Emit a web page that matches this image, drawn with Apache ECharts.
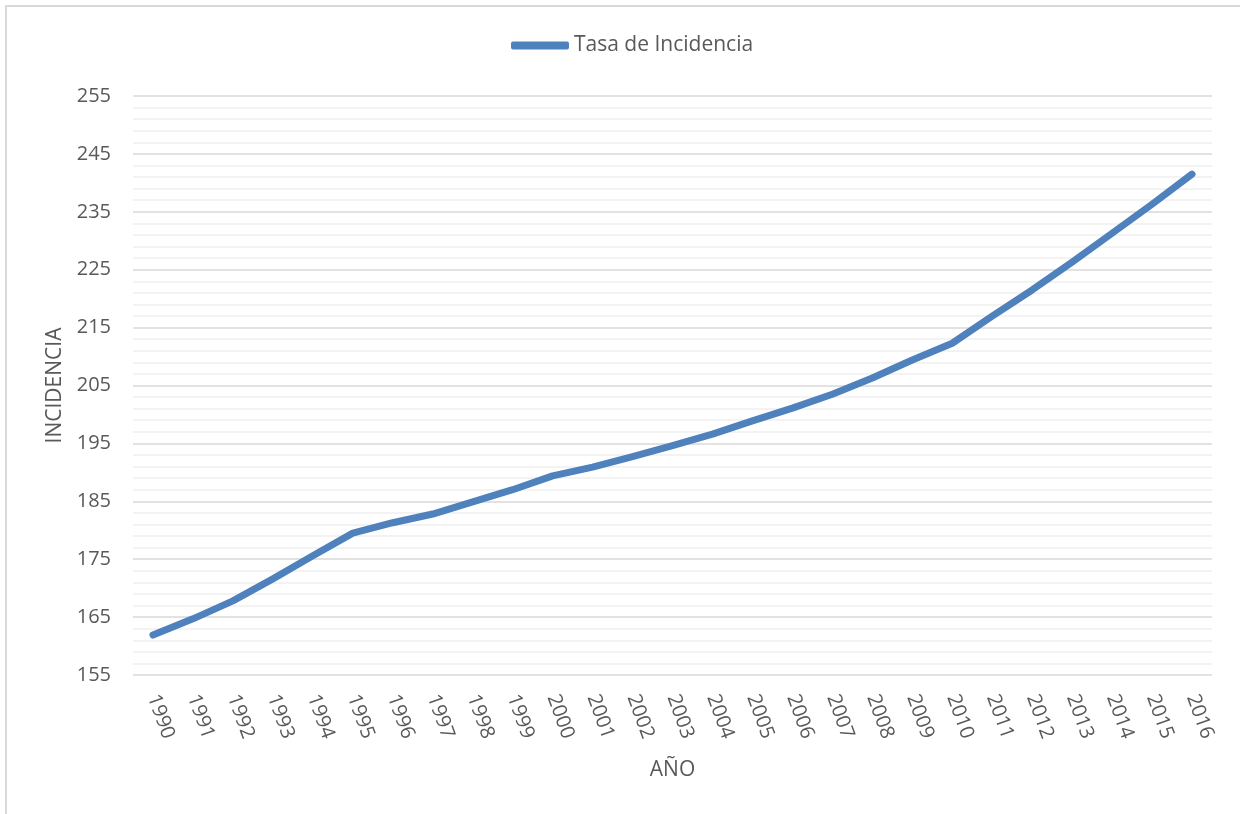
<!DOCTYPE html>
<html>
<head>
<meta charset="utf-8">
<script src="https://cdn.jsdelivr.net/npm/echarts@6/dist/echarts.min.js"></script>
<style>
html,body{margin:0;padding:0;background:#fff;overflow:hidden;}
#frame{position:absolute;left:5px;top:5px;width:1233px;height:820px;border-left:2px solid #d9d9d9;border-top:2px solid #d9d9d9;border-right:1px solid #ececec;pointer-events:none;}
#c{position:absolute;left:0;top:0;width:1240px;height:814px;}
</style>
</head>
<body>
<div id="c"></div>
<div id="frame"></div>
<script>
const years = ['1990','1991','1992','1993','1994','1995','1996','1997','1998','1999','2000','2001','2002','2003','2004','2005','2006','2007','2008','2009','2010','2011','2012','2013','2014','2015','2016'];
const tasa = [161.9,164.7,167.8,171.6,175.6,179.5,181.3,182.8,184.9,187.0,189.4,190.9,192.7,194.6,196.6,198.9,201.1,203.5,206.3,209.4,212.3,217.0,221.5,226.3,231.3,236.3,241.5];
const seriesName = 'Tasa de Incidencia';

const chart = echarts.init(document.getElementById('c'), null, {renderer:'canvas'});
const font = '"Open Sans", "Liberation Sans", sans-serif';
chart.setOption({
  animation:false,
  textStyle:{fontFamily:font},
  legend:{
    top:30, left:506,
    itemWidth:58, itemHeight:8, itemGap:3,
    icon:'roundRect',
    textStyle:{color:'#595959', fontSize:21, fontFamily:font},
    data:[seriesName]
  },
  grid:{left:133, right:28, top:96, bottom:139, containLabel:false},
  xAxis:{
    type:'category', data:years, boundaryGap:true,
    name:'AÑO', nameLocation:'middle', nameGap:85,
    nameTextStyle:{color:'#595959', fontSize:21, fontFamily:font},
    axisLine:{show:false}, axisTick:{show:false},
    axisLabel:{rotate:-70, color:'#595959', fontSize:20, margin:20, interval:0, fontFamily:font}
  },
  yAxis:{
    type:'value', min:155, max:255, interval:10,
    name:'INCIDENCIA', nameLocation:'middle', nameGap:67, nameRotate:90,
    nameTextStyle:{color:'#595959', fontSize:21, fontFamily:font},
    axisLine:{show:false}, axisTick:{show:false},
    axisLabel:{color:'#595959', fontSize:20, margin:22, fontFamily:font},
    splitLine:{show:true, lineStyle:{color:'#d9d9d9', width:1.5}},
    minorTick:{show:false, splitNumber:5},
    minorSplitLine:{show:true, lineStyle:{color:'#f0f0f0', width:1.5}}
  },
  series:[{
    name:seriesName, type:'line', data:tasa,
    symbol:'none', smooth:false,
    lineStyle:{color:'#4f81bd', width:7, cap:'round', join:'round'},
    itemStyle:{color:'#4f81bd'}
  }]
});
</script>
</body>
</html>
